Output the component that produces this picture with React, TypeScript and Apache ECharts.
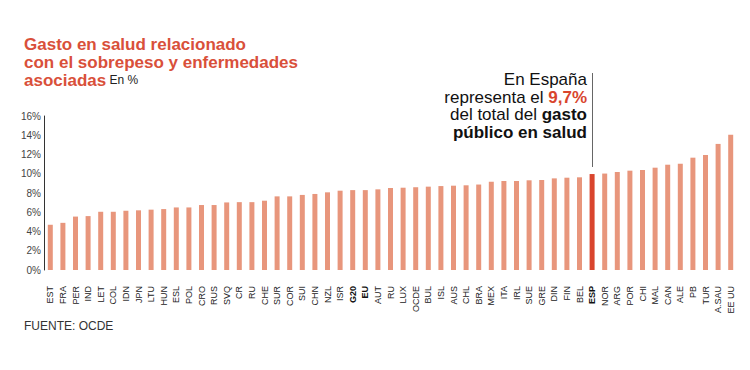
import React, { useEffect, useRef } from "react";
import * as echarts from "echarts";

const categories = [
  "EST", "FRA", "PER", "IND", "LET", "COL", "IDN", "JPN", "LTU", "HUN",
  "ESL", "POL", "CRO", "RUS", "SVQ", "CR", "RU", "CHE", "SUR", "COR",
  "SUI", "CHN", "NZL", "ISR", "G20", "EU", "AUT", "RU", "LUX", "OCDE",
  "BUL", "ISL", "AUS", "CHL", "BRA", "MEX", "ITA", "IRL", "SUE", "GRE",
  "DIN", "FIN", "BEL", "ESP", "NOR", "ARG", "POR", "CHI", "MAL", "CAN",
  "ALE", "PB", "TUR", "A.SAU", "EE UU",
];

const values = [
  4.7, 4.9, 5.55, 5.6, 6.05, 6.05, 6.15, 6.2, 6.27, 6.33,
  6.5, 6.5, 6.75, 6.75, 7.02, 7.05, 7.05, 7.2, 7.65, 7.65,
  7.8, 7.9, 8.07, 8.24, 8.3, 8.3, 8.38, 8.52, 8.55, 8.6,
  8.66, 8.72, 8.76, 8.8, 8.88, 9.17, 9.25, 9.25, 9.32, 9.35,
  9.52, 9.59, 9.63, 9.97, 10.02, 10.18, 10.32, 10.39, 10.63, 10.94,
  11.04, 11.67, 11.95, 13.1, 14.05,
];

const boldCategories = ["G20", "EU", "ESP"];
const highlight = "ESP";
const yTicks = { min: 0, max: 16, interval: 2 };

const titleLines = [
  "{t|Gasto en salud relacionado}",
  "{t|con el sobrepeso y enfermedades}",
  "{t|asociadas} {s|En %}",
];
const noteLines = [
  "{r|En España}",
  "{r|representa el }{h|9,7%}",
  "{r|del total del }{b|gasto}",
  "{b|público en salud}",
];

const BAR = "#E8967C";
const RED = "#D9452D";
const FONT = "'Liberation Sans', Arial, sans-serif";

export default function App() {
  const ref = useRef<HTMLDivElement>(null);
  useEffect(() => {
    document.body.style.margin = "0";
    if (!ref.current) return;
    const chart = echarts.init(ref.current, null, { renderer: "svg" });
    const titleRich = {
      t: { fontSize: 17, fontWeight: "bold", fill: "#D9503A", fontFamily: FONT, lineHeight: 17 },
      s: { fontSize: 12, fill: "#222", fontFamily: FONT, lineHeight: 17 },
    };
    const noteRich = {
      r: { fontSize: 17, fill: "#111", fontFamily: FONT, lineHeight: 17 },
      h: { fontSize: 17, fontWeight: "bold", fill: RED, fontFamily: FONT, lineHeight: 17 },
      b: { fontSize: 17, fontWeight: "bold", fill: "#111", fontFamily: FONT, lineHeight: 17 },
    };
    chart.setOption({
      animation: false,
      textStyle: { fontFamily: FONT },
      grid: { left: 44, right: 13, top: 116, bottom: 100, containLabel: false },
      xAxis: {
        type: "category",
        data: categories,
        axisLine: { show: false },
        axisTick: { show: false },
        axisLabel: {
          rotate: 90,
          interval: 0,
          margin: 16,
          fontSize: 9,
          color: "#222",
          fontFamily: FONT,
          formatter: (v: string) => (boldCategories.includes(v) ? `{b|${v}}` : v),
          rich: { b: { fontWeight: "bold", fontSize: 9, color: "#111", fontFamily: FONT } },
        },
      },
      yAxis: {
        type: "value",
        min: yTicks.min,
        max: yTicks.max,
        interval: yTicks.interval,
        axisLine: { show: true, lineStyle: { color: "#333", width: 1 } },
        axisTick: { show: false },
        splitLine: { show: false },
        axisLabel: { formatter: "{value}%", fontSize: 10, color: "#444", margin: 3, fontFamily: FONT },
      },
      series: [
        {
          type: "bar",
          barWidth: 5,
          data: values.map((v, i) => ({
            value: v,
            itemStyle: { color: categories[i] === highlight ? RED : BAR },
          })),
        },
      ],
      graphic: [
        ...titleLines.map((t, i) => ({
          type: "text",
          x: 24,
          y: 44 + i * 18,
          style: { text: t, rich: titleRich, verticalAlign: "middle" },
        })),
        ...noteLines.map((t, i) => ({
          type: "text",
          x: 587,
          y: 79.5 + i * 17.5,
          style: { text: t, rich: noteRich, align: "right", verticalAlign: "middle" },
        })),
        {
          type: "line",
          shape: { x1: 592.5, y1: 73, x2: 592.5, y2: 167 },
          style: { stroke: "#666", lineWidth: 1 },
        },
        {
          type: "text",
          left: 24,
          top: 320,
          style: { text: "FUENTE: OCDE", fontSize: 12, fill: "#333", fontFamily: FONT },
        },
      ],
    });
    return () => chart.dispose();
  }, []);
  return <div ref={ref} style={{ width: 750, height: 370 }} />;
}
